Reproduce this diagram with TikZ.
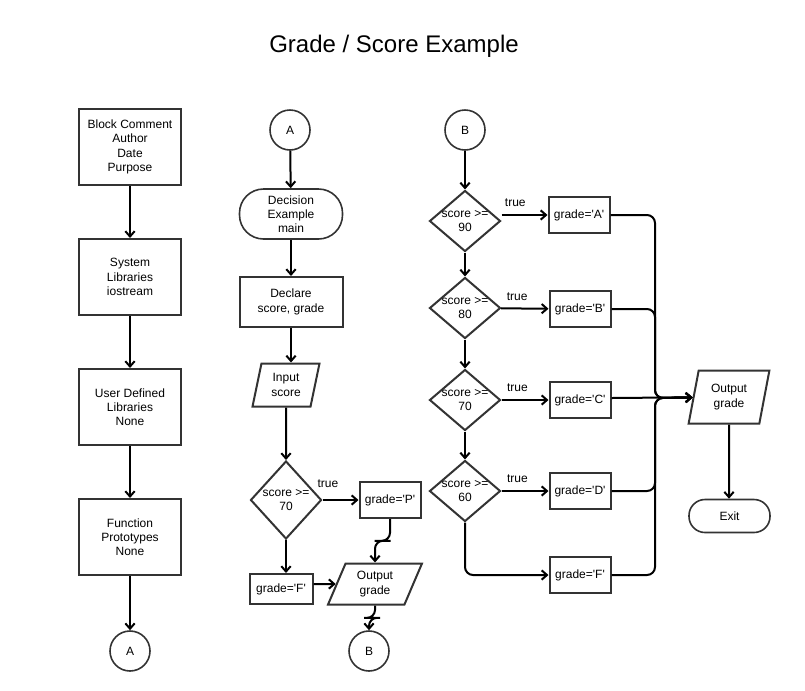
\documentclass[tikz,border=0pt]{standalone}
\usepackage{fontspec}
\setmainfont{Liberation Sans}[Ligatures=TeXOff]
\usetikzlibrary{shapes.geometric,arrows.meta,calc}

% two centred lines that may stick out of a diamond
\newcommand{\dlabel}[2]{\makebox[0pt]{#1}\\\makebox[0pt]{#2}}

\begin{document}
\begin{tikzpicture}[
    x=0.75pt, y=-0.75pt,
    >={Straight Barb[length=4pt,width=7pt]},
    font=\fontsize{9}{10.7}\selectfont,
    line width=1.5pt,
    process/.style={
        draw=black!80, rectangle, line width=1.5pt,
        minimum width=76.5pt, minimum height=57pt, align=center, inner sep=1pt
    },
    assign/.style={
        draw=black!80, rectangle, line width=1.5pt,
        minimum width=45.75pt, minimum height=27pt, align=center, inner sep=1pt
    },
    decision/.style={
        draw=black!80, diamond, line width=1.5pt, inner sep=0pt,
        minimum width=53.25pt, minimum height=45.75pt, align=center
    },
    io/.style={
        draw=black!80, trapezium, trapezium stretches=true, line width=1.5pt,
        trapezium left angle=77, trapezium right angle=103, align=center, inner sep=1pt
    },
    terminal/.style={
        draw=black!80, rectangle, line width=1.2pt, align=center, inner sep=1pt
    },
    connector/.style={
        draw=black!80, circle, line width=1.2pt, minimum size=30pt, inner sep=0pt
    },
    flow/.style={->, line width=1.5pt, rounded corners=6pt}
]

\path[use as bounding box] (0,0) rectangle (805,690);

\node[anchor=base] (title) at (394,52) {\fontsize{18}{20}\selectfont Grade / Score Example};

% program header
\node[process] (comment) at (130,147) {Block Comment\\Author\\Date\\Purpose};
\node[process] (syslib) at (130,277) {System\\Libraries\\iostream};
\node[process] (userlib) at (130,407) {User Defined\\Libraries\\None};
\node[process] (proto) at (130,537) {Function\\Prototypes\\None};
\node[connector] (connA) at (130,651) {A};

% main with one decision
\node[connector] (startA) at (290,130) {A};
\node[terminal, rounded corners=18pt, minimum width=77.25pt, minimum height=37.5pt] (main) at (291,214) {Decision\\Example\\main};
\node[process, minimum width=77.25pt, minimum height=37.5pt] (declare) at (291,302) {Declare\\score, grade};
\node[io, minimum width=50.25pt, minimum height=32.25pt] (input) at (286,385) {Input\\score};
\node[decision, minimum height=58.5pt] (check70) at (286,500) {\dlabel{score >=}{70}};
\node[assign] (gradeP) at (390,500) {grade='P'};
\node[assign, minimum width=47.25pt, minimum height=22.5pt] (gradeF) at (281,589) {grade='F'};
\node[io, trapezium left angle=67.5, trapezium right angle=112.5, minimum width=70.5pt, minimum height=30.75pt] (outP) at (375,584) {Output\\grade};
\node[connector] (connB) at (369,651) {B};

% if / else if chain
\node[connector] (startB) at (465,130) {B};
\node[decision] (check90) at (465,221) {\dlabel{score >=}{90}};
\node[decision] (check80b) at (465,308) {\dlabel{score >=}{80}};
\node[decision] (check70b) at (465,400) {\dlabel{score >=}{70}};
\node[decision] (check60) at (465,491) {\dlabel{score >=}{60}};

\node[assign] (gA) at (579,215) {grade='A'};
\node[assign] (gB) at (580,309) {grade='B'};
\node[assign] (gC) at (580,400) {grade='C'};
\node[assign] (gD) at (580,491) {grade='D'};
\node[assign] (gF) at (580,575) {grade='F'};

\node[io, minimum width=60.75pt, minimum height=39.75pt] (outG) at (729,397) {Output\\grade};
\node[terminal, rounded corners=12pt, minimum width=60.75pt, minimum height=24.75pt] (exit) at (729.5,516) {Exit};

\coordinate (merge) at (655,398);

% header flow
\draw[flow] (comment) -- (syslib);
\draw[flow] (syslib) -- (userlib);
\draw[flow] (userlib) -- (proto);
\draw[flow] (proto) -- (connA);

% main flow
\draw[flow] (startA) -- (main);
\draw[flow] (main) -- (declare);
\draw[flow] (declare) -- (declare |- input.north);
\draw[flow] (input.south) -- (check70);
\draw[flow] (check70) -- node[above, pos=0.15, yshift=5pt] {true} (gradeP);
\draw[flow] (check70.south) -- (check70.south |- gradeF.north);
\draw[flow] (gradeF.east |- outP) -- (outP);
\draw[flow] (gradeP.south) |- ($(gradeP.south)!0.5!(outP.north)$) -| (outP.north);
\draw[flow] (outP.south) |- ($(outP.south)!0.5!(connB.north)$) -| (connB.north);

% grade chain
\draw[flow] (startB) -- (check90);
\draw[flow] (check90) -- (check80b);
\draw[flow] (check80b) -- (check70b);
\draw[flow] (check70b) -- (check60);
\draw[flow] (check90.east |- gA) -- node[above, pos=0.3, yshift=2pt] {true} (gA);
\draw[flow] (check80b) -- node[above, pos=0.34, yshift=2pt] {true} (gB);
\draw[flow] (check70b) -- node[above, pos=0.34, yshift=2pt] {true} (gC);
\draw[flow] (check60) -- node[above, pos=0.34, yshift=2pt] {true} (gD);
\draw[flow] (check60.south) |- (gF);

\draw[flow] (gA.east) -| (merge) -- (outG);
\draw[flow] (gB.east) -| (merge) -- (outG);
\draw[flow] (gC.east |- merge) -- (outG);
\draw[flow] (gD.east) -| (merge) -- (outG);
\draw[flow] (gF.east) -| (merge) -- (outG);
\draw[flow] (outG) -- (outG |- exit.north);

\end{tikzpicture}
\end{document}
